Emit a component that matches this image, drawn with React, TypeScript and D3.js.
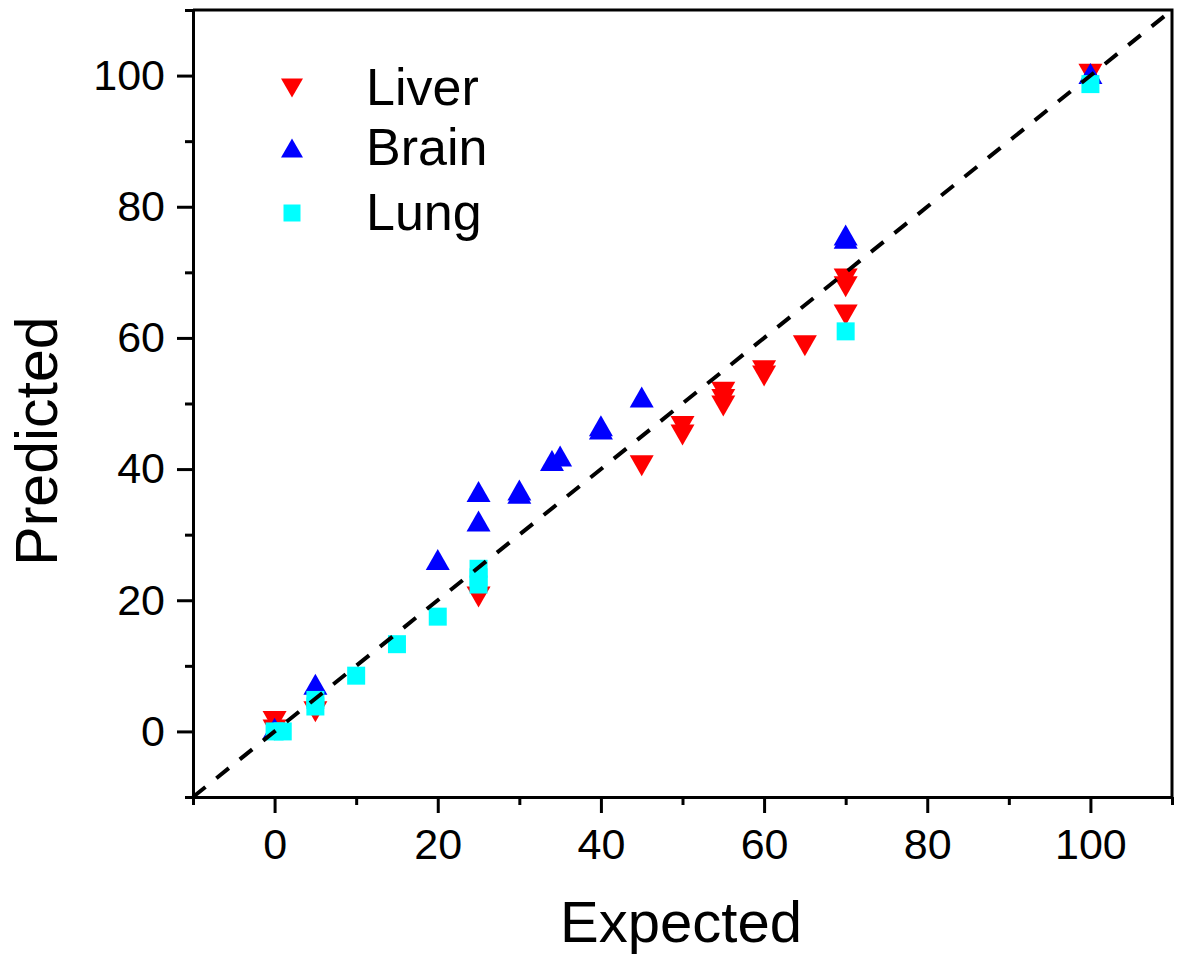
import React, { useEffect, useRef } from 'react';
import * as d3 from 'd3';

// values
const liverX = [0, 0, 5, 25, 45, 50, 50, 55, 55, 55, 60, 60, 65, 70, 70, 70, 100];
const liverY = [1.5, 0.2, 3, 20.5, 40.5, 46.5, 45.2, 51.7, 50.6, 49.6, 55, 54.2, 58.8, 69, 67.8, 63.5, 100.2];

const brainX = [0, 5, 20, 25, 25, 30, 30, 34, 35, 40, 40, 45, 70, 70, 100];
const brainY = [0.5, 7.2, 26.2, 36.6, 32.1, 36.8, 36.3, 41.3, 42, 46.6, 46.1, 51, 75.7, 75.2, 100.3];

const lungX = [0, 1, 5, 5, 10, 15, 20, 25, 25, 25, 70, 100];
const lungY = [0, 0, 4.8, 3.8, 8.5, 13.3, 17.5, 24.8, 23.5, 22.4, 61, 98.7];

const xTicks = [0, 20, 40, 60, 80, 100];
const yTicks = [0, 20, 40, 60, 80, 100];
const minorTicks = [-10, 10, 30, 50, 70, 90, 110];

const seriesNames = ['Liver', 'Brain', 'Lung'];
const seriesColors = ['#ff0000', '#0000ff', '#00ffff'];

const W = 1178;
const H = 955;
const margin = { top: 10, right: 6, bottom: 158, left: 193 };

const FONT = '"Liberation Sans", Arial, sans-serif';

const triUp = (w: number, h: number) => `M0,${-h / 2}L${w / 2},${h / 2}L${-w / 2},${h / 2}Z`;
const triDown = (w: number, h: number) => `M0,${h / 2}L${w / 2},${-h / 2}L${-w / 2},${-h / 2}Z`;
const square = (s: number) => `M${-s / 2},${-s / 2}h${s}v${s}h${-s}Z`;

const App = () => {
  const svgRef = useRef<SVGSVGElement>(null);

  useEffect(() => {
    const svg = d3.select(svgRef.current);
    svg.selectAll('*').remove();

    const x = d3.scaleLinear().domain([-10, 110]).range([margin.left, W - margin.right]);
    const y = d3.scaleLinear().domain([-10, 110]).range([H - margin.bottom, margin.top]);

    const shapes = [triDown(24, 21), triUp(24, 21), square(18)];
    const xs = [liverX, brainX, lungX];
    const ys = [liverY, brainY, lungY];

    // points
    seriesNames.forEach((name, i) => {
      const data = xs[i].map((v, j) => [v, ys[i][j]]);
      svg.append('g')
        .selectAll('path')
        .data(data)
        .join('path')
        .attr('d', shapes[i])
        .attr('fill', seriesColors[i])
        .attr('transform', d => `translate(${x(d[0])},${y(d[1])})`);
    });

    // y = x line
    svg.append('path')
      .attr('d', d3.line()([[x(-10), y(-10)], [x(110), y(110)]]))
      .attr('stroke', '#000')
      .attr('stroke-width', 4)
      .attr('stroke-dasharray', '16,14')
      .attr('fill', 'none');

    // frame
    svg.append('path')
      .attr('d', `M${x(-10)},${y(110)}H${x(110)}V${y(-10)}`)
      .attr('stroke', '#000')
      .attr('stroke-width', 3)
      .attr('fill', 'none');

    const xAxis = svg.append('g')
      .attr('transform', `translate(0,${y(-10)})`)
      .call(d3.axisBottom(x).tickValues(xTicks).tickSize(16).tickPadding(15).tickSizeOuter(0));
    svg.append('g')
      .attr('transform', `translate(0,${y(-10)})`)
      .call(d3.axisBottom(x).tickValues(minorTicks).tickSize(8).tickFormat(() => '').tickSizeOuter(0))
      .call(g => g.select('.domain').remove());

    const yAxis = svg.append('g')
      .attr('transform', `translate(${x(-10)},0)`)
      .call(d3.axisLeft(y).tickValues(yTicks).tickSize(16).tickPadding(12).tickSizeOuter(0));
    svg.append('g')
      .attr('transform', `translate(${x(-10)},0)`)
      .call(d3.axisLeft(y).tickValues(minorTicks).tickSize(8).tickFormat(() => '').tickSizeOuter(0))
      .call(g => g.select('.domain').remove());

    svg.selectAll('.domain').attr('stroke-width', 3);
    svg.selectAll('.tick line').attr('stroke-width', 3);
    [xAxis, yAxis].forEach(g => g.selectAll('text')
      .attr('font-family', FONT)
      .attr('font-size', 43)
      .attr('fill', '#000'));

    // axis titles
    svg.append('text')
      .attr('x', 681)
      .attr('y', 942)
      .attr('text-anchor', 'middle')
      .attr('font-family', FONT)
      .attr('font-size', 58)
      .text('Expected');

    svg.append('text')
      .attr('transform', `translate(57,441) rotate(-90)`)
      .attr('text-anchor', 'middle')
      .attr('font-family', FONT)
      .attr('font-size', 59)
      .text('Predicted');

    // legend
    const legend = svg.append('g');
    const legendY = [88, 148, 213];
    const legendShapes = [triDown(22, 19), triUp(22, 19), square(17)];
    seriesNames.forEach((name, i) => {
      legend.append('path')
        .attr('d', legendShapes[i])
        .attr('fill', seriesColors[i])
        .attr('transform', `translate(292,${legendY[i]})`);
      legend.append('text')
        .attr('x', 366)
        .attr('y', legendY[i] + 17)
        .attr('font-family', FONT)
        .attr('font-size', 52)
        .text(name);
    });
  }, []);

  return (
    <svg ref={svgRef} width={W} height={H}
      style={{ position: 'absolute', left: 0, top: 0, background: '#fff' }} />
  );
};

export default App;
